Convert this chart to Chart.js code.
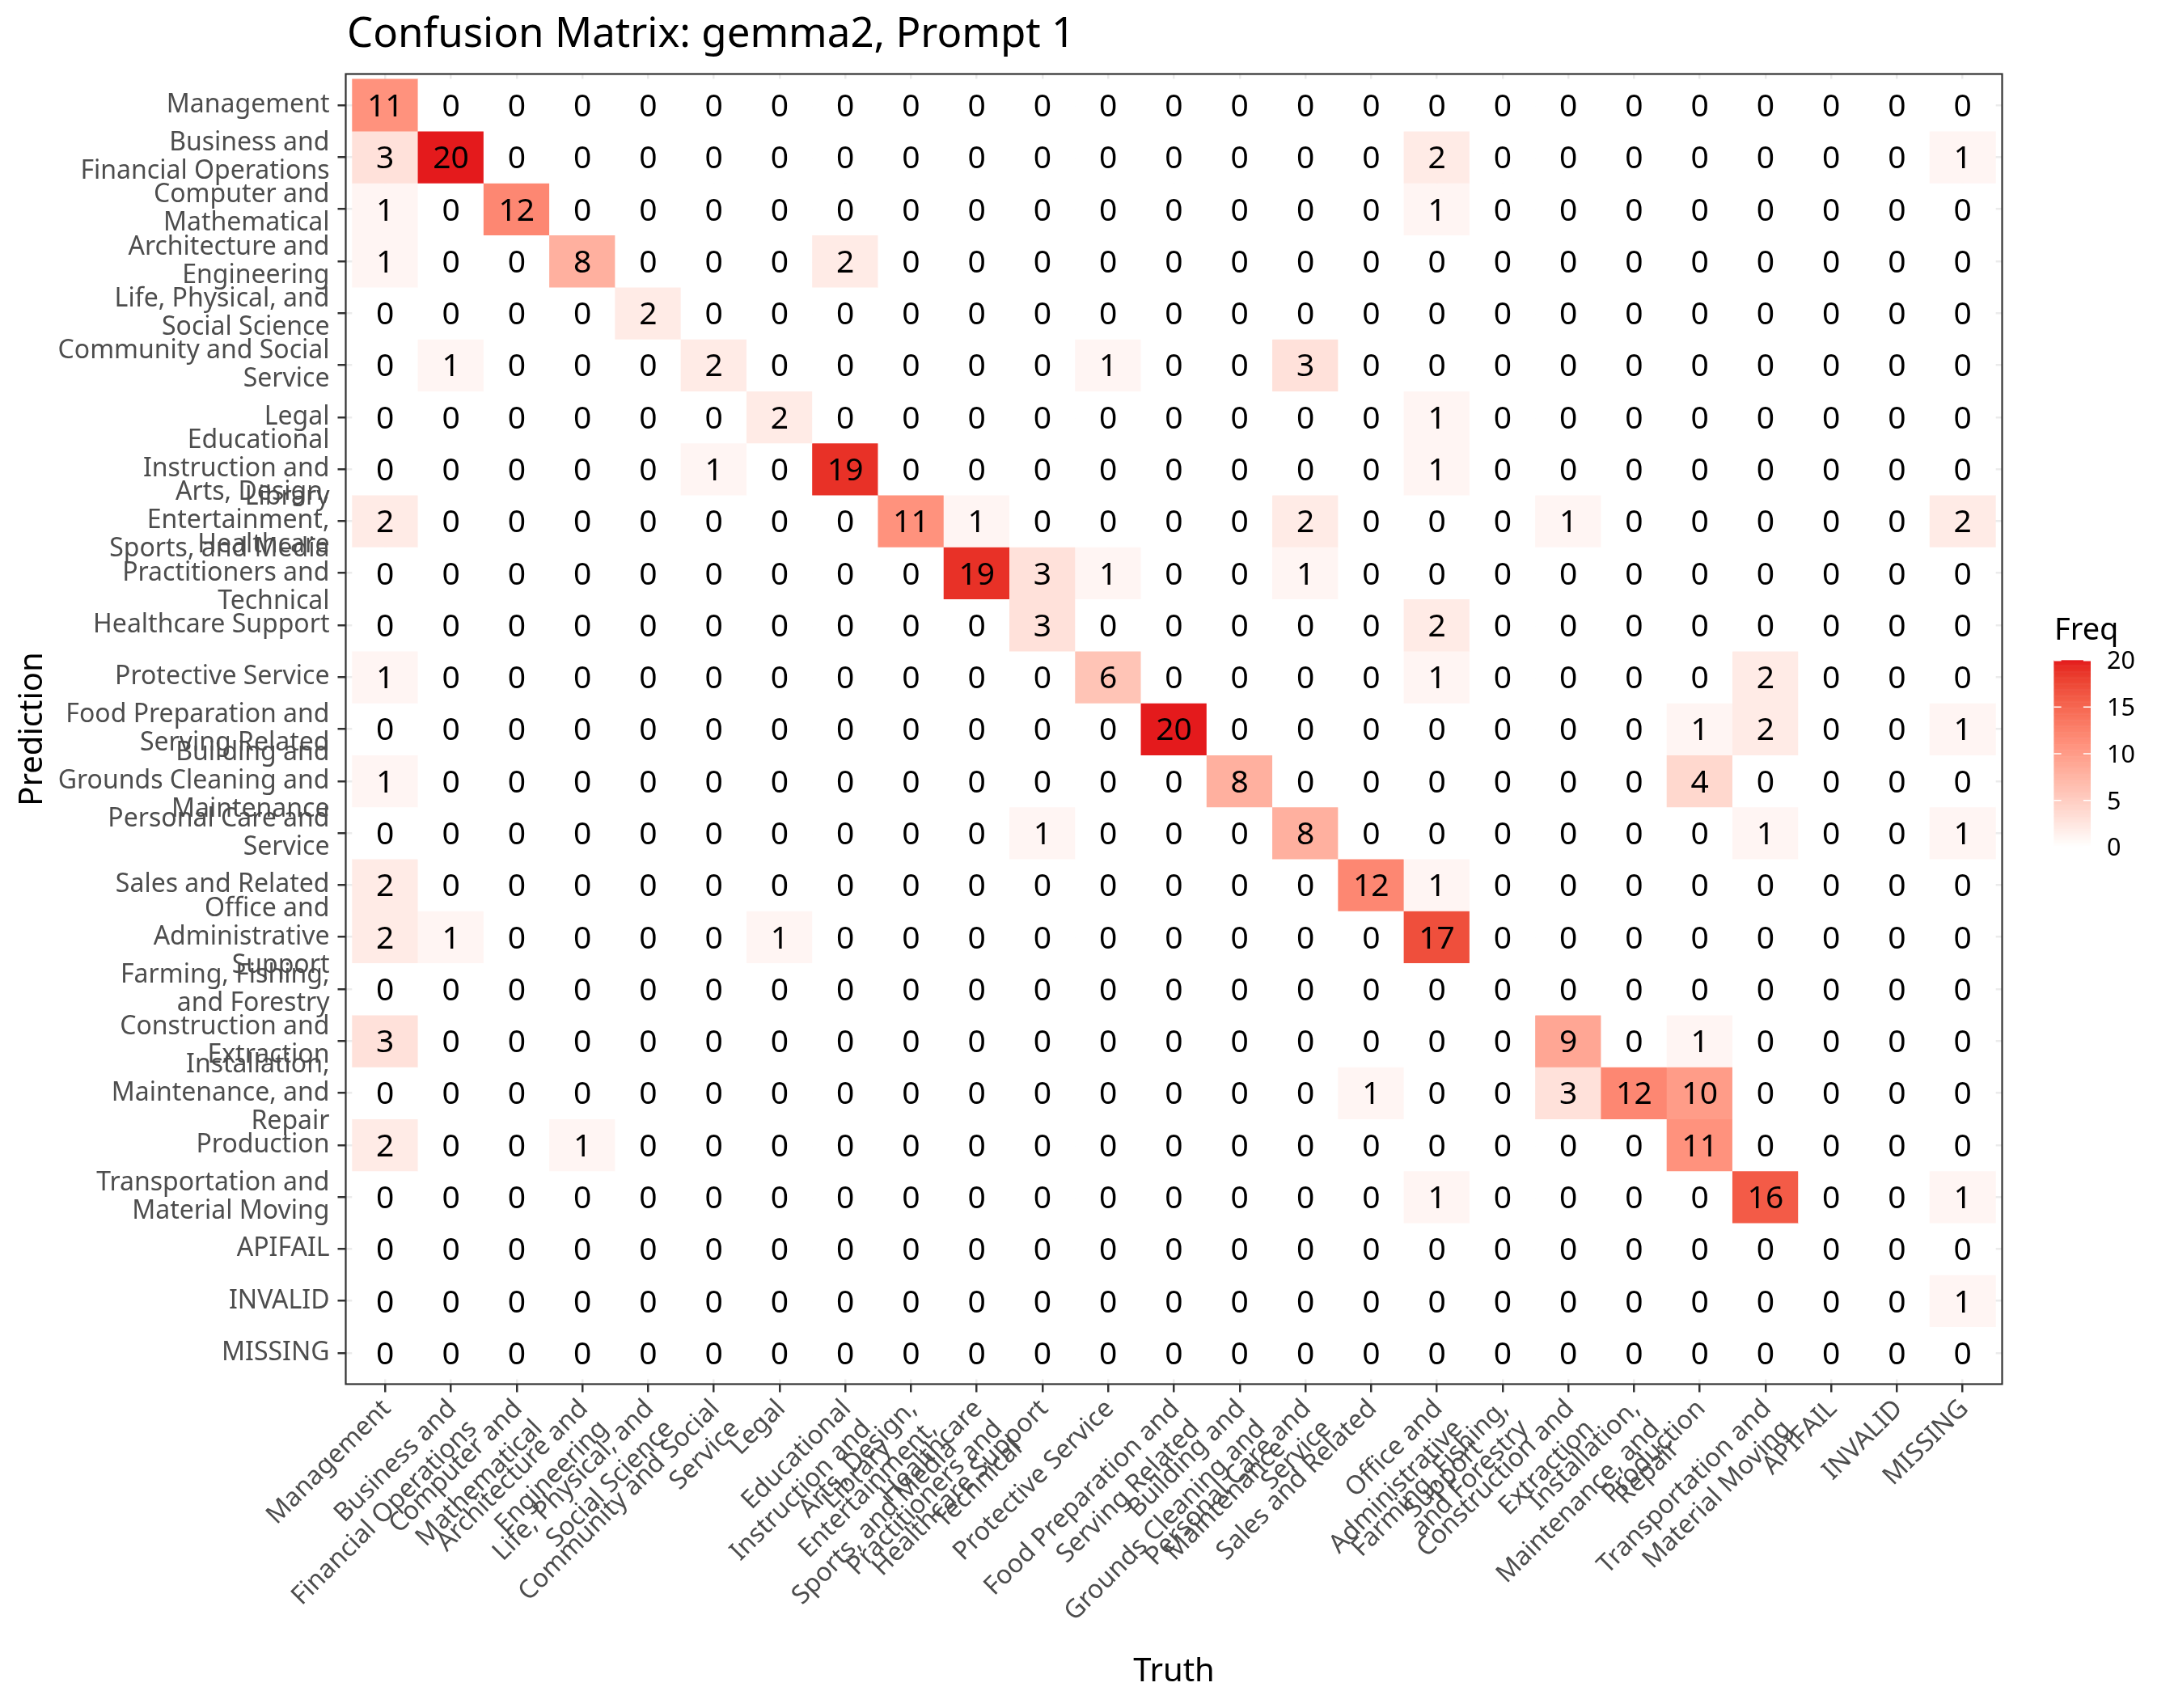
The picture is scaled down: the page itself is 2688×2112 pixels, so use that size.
<!DOCTYPE html>
<html>
<head>
<meta charset="utf-8">
<title>Confusion Matrix: gemma2, Prompt 1</title>
<script src="https://cdn.jsdelivr.net/npm/chart.js@4.4.0/dist/chart.umd.min.js"></script>
<style>
  html, body { margin: 0; padding: 0; background: #ffffff; }
  #wrap { width: 2688px; height: 2112px; }
</style>
</head>
<body>
<div id="wrap"><canvas id="cm" width="2688" height="2112"></canvas></div>
<script>
const categories = [
    'Management', 'Business and Financial Operations', 'Computer and Mathematical',
    'Architecture and Engineering', 'Life, Physical, and Social Science',
    'Community and Social Service', 'Legal', 'Educational Instruction and Library',
    'Arts, Design, Entertainment, Sports, and Media', 'Healthcare Practitioners and Technical',
    'Healthcare Support', 'Protective Service', 'Food Preparation and Serving Related',
    'Building and Grounds Cleaning and Maintenance', 'Personal Care and Service',
    'Sales and Related', 'Office and Administrative Support', 'Farming, Fishing, and Forestry',
    'Construction and Extraction', 'Installation, Maintenance, and Repair', 'Production',
    'Transportation and Material Moving', 'APIFAIL', 'INVALID', 'MISSING'
];

// wrapped tick labels, same for both axes
const tickLabels = [
    ['Management'],
    ['Business and', 'Financial Operations'],
    ['Computer and', 'Mathematical'],
    ['Architecture and', 'Engineering'],
    ['Life, Physical, and', 'Social Science'],
    ['Community and Social', 'Service'],
    ['Legal'],
    ['Educational', 'Instruction and', 'Library'],
    ['Arts, Design,', 'Entertainment,', 'Sports, and Media'],
    ['Healthcare', 'Practitioners and', 'Technical'],
    ['Healthcare Support'],
    ['Protective Service'],
    ['Food Preparation and', 'Serving Related'],
    ['Building and', 'Grounds Cleaning and', 'Maintenance'],
    ['Personal Care and', 'Service'],
    ['Sales and Related'],
    ['Office and', 'Administrative', 'Support'],
    ['Farming, Fishing,', 'and Forestry'],
    ['Construction and', 'Extraction'],
    ['Installation,', 'Maintenance, and', 'Repair'],
    ['Production'],
    ['Transportation and', 'Material Moving'],
    ['APIFAIL'],
    ['INVALID'],
    ['MISSING']
];

// one row per prediction, one column per truth
const freq = [
    [11, 0, 0, 0, 0, 0, 0, 0, 0, 0, 0, 0, 0, 0, 0, 0, 0, 0, 0, 0, 0, 0, 0, 0, 0],
    [3, 20, 0, 0, 0, 0, 0, 0, 0, 0, 0, 0, 0, 0, 0, 0, 2, 0, 0, 0, 0, 0, 0, 0, 1],
    [1, 0, 12, 0, 0, 0, 0, 0, 0, 0, 0, 0, 0, 0, 0, 0, 1, 0, 0, 0, 0, 0, 0, 0, 0],
    [1, 0, 0, 8, 0, 0, 0, 2, 0, 0, 0, 0, 0, 0, 0, 0, 0, 0, 0, 0, 0, 0, 0, 0, 0],
    [0, 0, 0, 0, 2, 0, 0, 0, 0, 0, 0, 0, 0, 0, 0, 0, 0, 0, 0, 0, 0, 0, 0, 0, 0],
    [0, 1, 0, 0, 0, 2, 0, 0, 0, 0, 0, 1, 0, 0, 3, 0, 0, 0, 0, 0, 0, 0, 0, 0, 0],
    [0, 0, 0, 0, 0, 0, 2, 0, 0, 0, 0, 0, 0, 0, 0, 0, 1, 0, 0, 0, 0, 0, 0, 0, 0],
    [0, 0, 0, 0, 0, 1, 0, 19, 0, 0, 0, 0, 0, 0, 0, 0, 1, 0, 0, 0, 0, 0, 0, 0, 0],
    [2, 0, 0, 0, 0, 0, 0, 0, 11, 1, 0, 0, 0, 0, 2, 0, 0, 0, 1, 0, 0, 0, 0, 0, 2],
    [0, 0, 0, 0, 0, 0, 0, 0, 0, 19, 3, 1, 0, 0, 1, 0, 0, 0, 0, 0, 0, 0, 0, 0, 0],
    [0, 0, 0, 0, 0, 0, 0, 0, 0, 0, 3, 0, 0, 0, 0, 0, 2, 0, 0, 0, 0, 0, 0, 0, 0],
    [1, 0, 0, 0, 0, 0, 0, 0, 0, 0, 0, 6, 0, 0, 0, 0, 1, 0, 0, 0, 0, 2, 0, 0, 0],
    [0, 0, 0, 0, 0, 0, 0, 0, 0, 0, 0, 0, 20, 0, 0, 0, 0, 0, 0, 0, 1, 2, 0, 0, 1],
    [1, 0, 0, 0, 0, 0, 0, 0, 0, 0, 0, 0, 0, 8, 0, 0, 0, 0, 0, 0, 4, 0, 0, 0, 0],
    [0, 0, 0, 0, 0, 0, 0, 0, 0, 0, 1, 0, 0, 0, 8, 0, 0, 0, 0, 0, 0, 1, 0, 0, 1],
    [2, 0, 0, 0, 0, 0, 0, 0, 0, 0, 0, 0, 0, 0, 0, 12, 1, 0, 0, 0, 0, 0, 0, 0, 0],
    [2, 1, 0, 0, 0, 0, 1, 0, 0, 0, 0, 0, 0, 0, 0, 0, 17, 0, 0, 0, 0, 0, 0, 0, 0],
    [0, 0, 0, 0, 0, 0, 0, 0, 0, 0, 0, 0, 0, 0, 0, 0, 0, 0, 0, 0, 0, 0, 0, 0, 0],
    [3, 0, 0, 0, 0, 0, 0, 0, 0, 0, 0, 0, 0, 0, 0, 0, 0, 0, 9, 0, 1, 0, 0, 0, 0],
    [0, 0, 0, 0, 0, 0, 0, 0, 0, 0, 0, 0, 0, 0, 0, 1, 0, 0, 3, 12, 10, 0, 0, 0, 0],
    [2, 0, 0, 1, 0, 0, 0, 0, 0, 0, 0, 0, 0, 0, 0, 0, 0, 0, 0, 0, 11, 0, 0, 0, 0],
    [0, 0, 0, 0, 0, 0, 0, 0, 0, 0, 0, 0, 0, 0, 0, 0, 1, 0, 0, 0, 0, 16, 0, 0, 1],
    [0, 0, 0, 0, 0, 0, 0, 0, 0, 0, 0, 0, 0, 0, 0, 0, 0, 0, 0, 0, 0, 0, 0, 0, 0],
    [0, 0, 0, 0, 0, 0, 0, 0, 0, 0, 0, 0, 0, 0, 0, 0, 0, 0, 0, 0, 0, 0, 0, 0, 1],
    [0, 0, 0, 0, 0, 0, 0, 0, 0, 0, 0, 0, 0, 0, 0, 0, 0, 0, 0, 0, 0, 0, 0, 0, 0]
];

const legendTicks = [0, 5, 10, 15, 20];
const freqMax = 20;
const lowColor = '#FFFFFF';
const highColor = '#E41A1C';

const FONT = 'Noto Sans';
const W = 2688, H = 2112;
const panel = { left: 427.5, right: 2475.5, top: 91.5, bottom: 1711.5 };

// colour ramp interpolated in Lab, like ggplot's gradient
const WHITE_REF = [0.95047, 1, 1.08883];
const toLinear = c => { c /= 255; return c <= 0.04045 ? c / 12.92 : Math.pow((c + 0.055) / 1.055, 2.4); };
const fromLinear = c => {
    const v = c <= 0.0031308 ? 12.92 * c : 1.055 * Math.pow(c, 1 / 2.4) - 0.055;
    return Math.round(Math.min(1, Math.max(0, v)) * 255);
};
const hexToLab = (hex) => {
    const r = toLinear(parseInt(hex.slice(1, 3), 16));
    const g = toLinear(parseInt(hex.slice(3, 5), 16));
    const b = toLinear(parseInt(hex.slice(5, 7), 16));
    const x = (r * 0.4124 + g * 0.3576 + b * 0.1805) / WHITE_REF[0];
    const y = (r * 0.2126 + g * 0.7152 + b * 0.0722) / WHITE_REF[1];
    const z = (r * 0.0193 + g * 0.1192 + b * 0.9505) / WHITE_REF[2];
    const f = t => t > 0.008856 ? Math.cbrt(t) : 7.787 * t + 16 / 116;
    return [116 * f(y) - 16, 500 * (f(x) - f(y)), 200 * (f(y) - f(z))];
};
const labToRgb = ([L, a, b]) => {
    const fy = (L + 16) / 116, fx = fy + a / 500, fz = fy - b / 200;
    const inv = t => t * t * t > 0.008856 ? t * t * t : (t - 16 / 116) / 7.787;
    const x = inv(fx) * WHITE_REF[0], y = inv(fy) * WHITE_REF[1], z = inv(fz) * WHITE_REF[2];
    const r = 3.2406 * x - 1.5372 * y - 0.4986 * z;
    const g = -0.9689 * x + 1.8758 * y + 0.0415 * z;
    const bl = 0.0557 * x - 0.2040 * y + 1.0570 * z;
    return `rgb(${fromLinear(r)},${fromLinear(g)},${fromLinear(bl)})`;
};
const labLow = hexToLab(lowColor);
const labHigh = hexToLab(highColor);
const fillFor = (v) => {
    const t = v / freqMax;
    return labToRgb(labLow.map((l, i) => l + (labHigh[i] - l) * t));
};

const datasets = freq.map((row, r) => ({
    label: categories[r],
    data: row.map((v, c) => ({ x: c, y: [r - 0.5, r + 0.5], v: v })),
    backgroundColor: row.map(fillFor),
    borderWidth: 0,
    grouped: false,
    barPercentage: 1,
    categoryPercentage: 1
}));

const tickFont = { family: FONT, size: 32, lineHeight: '35px' };
const gridOpts = {
    offset: false,
    color: '#EBEBEB',
    lineWidth: 2.5,
    tickColor: '#333333',
    tickWidth: 2.5,
    tickLength: 10,
    drawOnChartArea: true
};
const categoryTicks = scale => { scale.ticks = categories.map((_, i) => ({ value: i })); };

const cellText = {
    id: 'cellText',
    afterDatasetsDraw(chart) {
        const { ctx } = chart;
        ctx.save();
        ctx.font = `39px "${FONT}"`;
        ctx.fillStyle = '#000000';
        ctx.textAlign = 'center';
        ctx.textBaseline = 'alphabetic';
        chart.data.datasets.forEach((ds, i) => {
            const meta = chart.getDatasetMeta(i);
            meta.data.forEach((el, j) => {
                const { x, y, base } = el.getProps(['x', 'y', 'base'], true);
                ctx.fillText(String(ds.data[j].v), x, (y + base) / 2 + 39 * 0.357);
            });
        });
        ctx.restore();
    }
};

const frame = {
    id: 'frame',
    afterDraw(chart) {
        const { ctx, chartArea: a } = chart;
        ctx.save();
        ctx.strokeStyle = '#333333';
        ctx.lineWidth = 2.2;
        ctx.strokeRect(a.left, a.top, a.right - a.left, a.bottom - a.top);

        // title
        ctx.fillStyle = '#000000';
        ctx.font = `51px "${FONT}"`;
        ctx.textAlign = 'left';
        ctx.textBaseline = 'alphabetic';
        ctx.fillText('Confusion Matrix: gemma2, Prompt 1', 429, 58);

        // colour bar legend
        const bx = 2539.5, bw = 45.5, bTop = 816.6, bBottom = 1047.4;
        ctx.font = `38px "${FONT}"`;
        ctx.fillText('Freq', 2540, 790.5);
        const steps = 200;
        const stepH = (bBottom - bTop) / steps;
        for (let s = 0; s < steps; s++) {
            const v = freqMax * (s + 0.5) / steps;
            ctx.fillStyle = fillFor(v);
            ctx.fillRect(bx, bBottom - (s + 1) * stepH - 0.3, bw, stepH + 0.6);
        }
        ctx.strokeStyle = '#FFFFFF';
        ctx.lineWidth = 1.6;
        ctx.font = `30.5px "${FONT}"`;
        ctx.fillStyle = '#000000';
        legendTicks.forEach(t => {
            const y = bBottom - (t / freqMax) * (bBottom - bTop);
            ctx.beginPath();
            ctx.moveTo(bx, y); ctx.lineTo(bx + 9.1, y);
            ctx.moveTo(bx + bw - 9.1, y); ctx.lineTo(bx + bw, y);
            ctx.stroke();
            ctx.fillText(String(t), 2605, y + 30.5 * 0.357);
        });
        ctx.restore();
    }
};

new Chart(document.getElementById('cm'), {
    type: 'bar',
    data: { datasets: datasets },
    options: {
        responsive: false,
        animation: false,
        devicePixelRatio: 1,
        layout: { padding: { top: panel.top, right: W - panel.right, left: 0, bottom: 0 } },
        plugins: {
            legend: { display: false },
            tooltip: { enabled: false },
            title: { display: false }
        },
        scales: {
            x: {
                type: 'linear',
                min: -0.6,
                max: 24.6,
                offset: false,
                afterBuildTicks: categoryTicks,
                afterFit: scale => { scale.height = H - panel.bottom; },
                grid: gridOpts,
                border: { display: false },
                ticks: {
                    autoSkip: false,
                    minRotation: 45,
                    maxRotation: 45,
                    padding: 3,
                    labelOffset: 2,
                    color: '#4D4D4D',
                    font: tickFont,
                    callback: v => tickLabels[v]
                },
                title: {
                    display: true,
                    text: 'Truth',
                    color: '#000000',
                    font: { family: FONT, size: 40 },
                    padding: { top: 0, bottom: 20.5 }
                }
            },
            y: {
                type: 'linear',
                reverse: true,
                min: -0.6,
                max: 24.6,
                afterBuildTicks: categoryTicks,
                afterFit: scale => { scale.width = panel.left; },
                grid: gridOpts,
                border: { display: false },
                ticks: {
                    autoSkip: false,
                    padding: 10,
                    color: '#4D4D4D',
                    font: tickFont,
                    callback: v => tickLabels[v]
                },
                title: {
                    display: true,
                    text: 'Prediction',
                    color: '#000000',
                    font: { family: FONT, size: 40 },
                    padding: { top: 17, bottom: 0 }
                }
            }
        }
    },
    plugins: [cellText, frame]
});
</script>
</body>
</html>
